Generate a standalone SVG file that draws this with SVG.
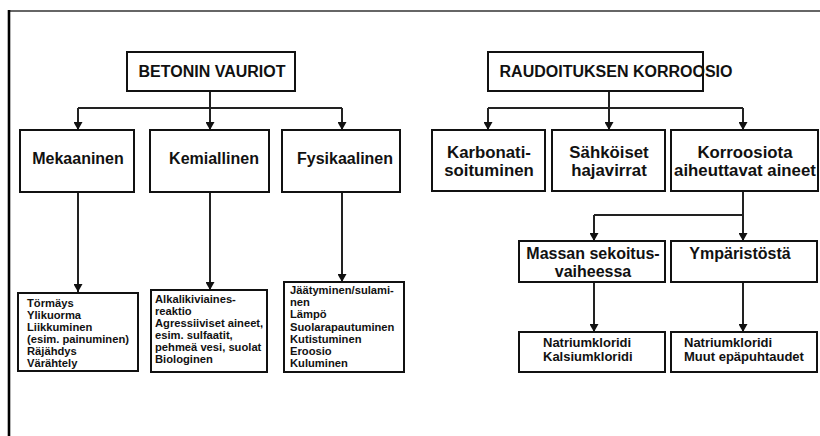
<svg xmlns="http://www.w3.org/2000/svg" width="820" height="436" viewBox="0 0 820 436">
<style>
.box{fill:#fff;stroke:#111;stroke-width:2}
.t{font-family:"Liberation Sans",Arial,sans-serif;font-weight:bold;fill:#111}
.h{font-size:16px;text-anchor:middle}
.c{font-size:16px;text-anchor:middle}
.s{font-size:11.2px}
.s2{font-size:13px}
.ln{fill:none;stroke:#222;stroke-width:2}
</style>
<defs>
<marker id="ah" markerWidth="8" markerHeight="9" refX="8" refY="4.5" orient="auto" markerUnits="userSpaceOnUse" viewBox="0 0 8 9">
<path d="M0,0 L8,4.5 L0,9 Z" fill="#111"/>
</marker>
</defs>
<rect width="820" height="436" fill="#fff"/>
<g id="frame">
<line x1="9" y1="11" x2="820" y2="11" stroke="#333" stroke-width="1.6"/>
<line x1="9" y1="10" x2="9" y2="436" stroke="#000" stroke-width="2.6"/>
</g>
<g id="connectors">
<path class="ln" d="M210,91 V108 M78,108 H342"/>
<path class="ln" d="M78,108 V130" marker-end="url(#ah)"/>
<path class="ln" d="M210,108 V130" marker-end="url(#ah)"/>
<path class="ln" d="M342,108 V130" marker-end="url(#ah)"/>
<path class="ln" d="M78,192 V292" marker-end="url(#ah)"/>
<path class="ln" d="M210,192 V290" marker-end="url(#ah)"/>
<path class="ln" d="M342,192 V282" marker-end="url(#ah)"/>
<path class="ln" d="M609,91 V108 M488,108 H743"/>
<path class="ln" d="M488,108 V130" marker-end="url(#ah)"/>
<path class="ln" d="M609,108 V130" marker-end="url(#ah)"/>
<path class="ln" d="M743,108 V130" marker-end="url(#ah)"/>
<path class="ln" d="M594,215 H743"/>
<path class="ln" d="M743,191 V241" marker-end="url(#ah)"/>
<path class="ln" d="M594,215 V241" marker-end="url(#ah)"/>
<path class="ln" d="M594,282 V332" marker-end="url(#ah)"/>
<path class="ln" d="M743,282 V332" marker-end="url(#ah)"/>
</g>
<g id="betonin">
<rect class="box" x="127" y="52" width="168" height="39"/>
<text class="t h" x="212" y="77">BETONIN VAURIOT</text>
</g>
<g id="mekaaninen">
<rect class="box" x="20" y="130" width="114" height="62"/>
<text class="t c" x="78" y="164">Mekaaninen</text>
</g>
<g id="kemiallinen">
<rect class="box" x="150" y="130" width="119" height="62"/>
<text class="t c" x="214" y="164">Kemiallinen</text>
</g>
<g id="fysikaalinen">
<rect class="box" x="282" y="130" width="118" height="62"/>
<text class="t c" x="345" y="164">Fysikaalinen</text>
</g>
<g id="mek-list">
<rect class="box" x="18" y="293" width="120" height="78" stroke-width="2.5"/>
<text class="t s" x="27" y="307">Törmäys<tspan x="27" dy="12">Ylikuorma</tspan><tspan x="27" dy="12">Liikkuminen</tspan><tspan x="27" dy="12">(esim. painuminen)</tspan><tspan x="27" dy="12">Räjähdys</tspan><tspan x="27" dy="12">Värähtely</tspan></text>
</g>
<g id="kem-list">
<rect class="box" x="151" y="290" width="116" height="82" stroke-width="2.5"/>
<text class="t s" x="155" y="303">Alkalikiviaines-<tspan x="155" dy="12">reaktio</tspan><tspan x="155" dy="12">Agressiiviset aineet,</tspan><tspan x="155" dy="12">esim. sulfaatit,</tspan><tspan x="155" dy="12">pehmeä vesi, suolat</tspan><tspan x="155" dy="12">Biologinen</tspan></text>
</g>
<g id="fys-list">
<rect class="box" x="284" y="282" width="120" height="90" stroke-width="2.5"/>
<text class="t s" x="290" y="294">Jäätyminen/sulami-<tspan x="290" dy="12.2">nen</tspan><tspan x="290" dy="12.2">Lämpö</tspan><tspan x="290" dy="12.2">Suolarapautuminen</tspan><tspan x="290" dy="12.2">Kutistuminen</tspan><tspan x="290" dy="12.2">Eroosio</tspan><tspan x="290" dy="12.2">Kuluminen</tspan></text>
</g>
<g id="raudoituksen">
<rect class="box" x="488" y="52" width="215" height="39"/>
<text class="t h" x="616" y="77">RAUDOITUKSEN KORROOSIO</text>
</g>
<g id="karbonati">
<rect class="box" x="432" y="130" width="113" height="61"/>
<text class="t c" x="489" y="158" style="font-size:16.8px">Karbonati-<tspan x="489" dy="18">soituminen</tspan></text>
</g>
<g id="sahkoiset">
<rect class="box" x="552" y="130" width="113" height="61"/>
<text class="t c" x="609" y="158" style="font-size:16.8px">Sähköiset<tspan x="609" dy="18">hajavirrat</tspan></text>
</g>
<g id="korroosiota">
<rect class="box" x="671" y="130" width="147" height="61"/>
<text class="t c" x="745" y="158" style="font-size:16.8px">Korroosiota<tspan x="745" dy="18">aiheuttavat aineet</tspan></text>
</g>
<g id="massan">
<rect class="box" x="519" y="241" width="146" height="41"/>
<text class="t c" x="593" y="259">Massan sekoitus-<tspan x="593" dy="18">vaiheessa</tspan></text>
</g>
<g id="ymparistosta">
<rect class="box" x="671" y="241" width="146" height="41"/>
<text class="t c" x="740" y="259">Ympäristöstä</text>
</g>
<g id="massan-list">
<rect class="box" x="519" y="332" width="146" height="40"/>
<text class="t s2" x="543" y="347">Natriumkloridi<tspan x="543" dy="14">Kalsiumkloridi</tspan></text>
</g>
<g id="ymp-list">
<rect class="box" x="671" y="332" width="146" height="40"/>
<text class="t s2" x="684" y="347">Natriumkloridi<tspan x="684" dy="14">Muut epäpuhtaudet</tspan></text>
</g>
</svg>
